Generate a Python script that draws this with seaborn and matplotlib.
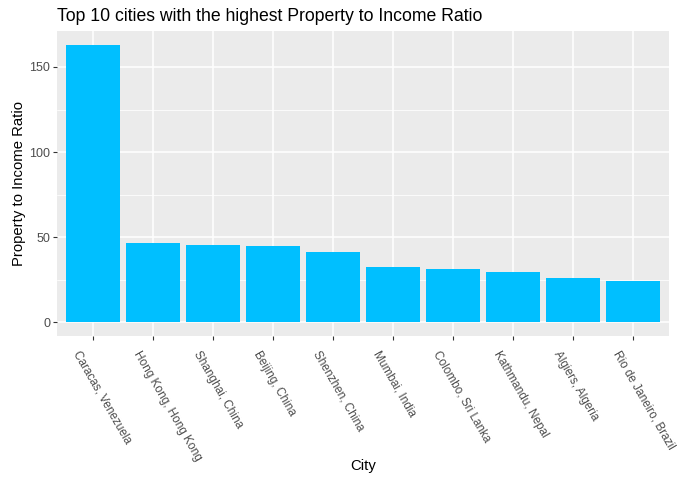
import numpy as np
import pandas as pd
import seaborn as sns
import matplotlib
matplotlib.use("Agg")
import matplotlib.pyplot as plt
from matplotlib.ticker import MultipleLocator
from matplotlib.transforms import ScaledTranslation

cities = [
    "Caracas, Venezuela",
    "Hong Kong, Hong Kong",
    "Shanghai, China",
    "Beijing, China",
    "Shenzhen, China",
    "Mumbai, India",
    "Colombo, Sri Lanka",
    "Kathmandu, Nepal",
    "Algiers, Algeria",
    "Rio de Janeiro, Brazil",
]
ratios = [163.0, 46.3, 45.5, 44.8, 41.2, 32.2, 31.2, 29.2, 25.9, 24.3]

df = pd.DataFrame({"City": cities, "Property to Income Ratio": ratios})

sns.set_theme(style="darkgrid", rc={
    "axes.facecolor": "#EBEBEB",
    "grid.color": "white",
    "axes.edgecolor": "#EBEBEB",
})
plt.rcParams["font.family"] = ["Liberation Sans", "DejaVu Sans"]

fig = plt.figure(figsize=(6.87, 4.79), dpi=100)
ax = fig.add_axes([57 / 687, 1 - 336 / 479, 612 / 687, 305 / 479])

sns.barplot(data=df, x="City", y="Property to Income Ratio", order=cities,
            color="#00BFFF", saturation=1, width=0.9, linewidth=0, ax=ax, zorder=3)

ax.set_xlim(-0.6, len(cities) - 0.4)
top = max(ratios)
ax.set_ylim(-0.05 * top, 1.05 * top)
ax.yaxis.set_major_locator(MultipleLocator(50))
ax.yaxis.set_minor_locator(MultipleLocator(25))
ax.grid(which="major", color="white", linewidth=1.1, zorder=0)
ax.grid(which="minor", axis="y", color="white", linewidth=0.55, zorder=0)
ax.set_axisbelow(True)
for s in ax.spines.values():
    s.set_visible(False)

ax.tick_params(axis="both", which="major", length=3, width=0.8, color="#333333",
               labelcolor="#4D4D4D", labelsize=9, pad=2)
ax.tick_params(axis="x", labelsize=8.5)
ax.tick_params(axis="both", which="minor", length=0)
ax.tick_params(axis="x", bottom=True)
ax.tick_params(axis="y", left=True)
# ggplot-style angle=-60, hjust=0 labels
shift = ScaledTranslation(-12 / 100, -6 / 100, fig.dpi_scale_trans)
for lab in ax.get_xticklabels():
    lab.set_rotation(-60)
    lab.set_ha("left")
    lab.set_va("top")
    lab.set_rotation_mode("anchor")
    lab.set_transform(lab.get_transform() + shift)

ax.set_xlabel("City", fontsize=10.7, color="black")
ax.xaxis.set_label_coords(0.5, (336 - 466) / 305)
ax.xaxis.label.set_va("center")
ax.set_ylabel("Property to Income Ratio", fontsize=10.7, color="black", labelpad=2)
ax.set_title("Top 10 cities with the highest Property to Income Ratio",
             loc="left", fontsize=12.7, color="black", pad=7)

fig.savefig("out.png", dpi=100)
